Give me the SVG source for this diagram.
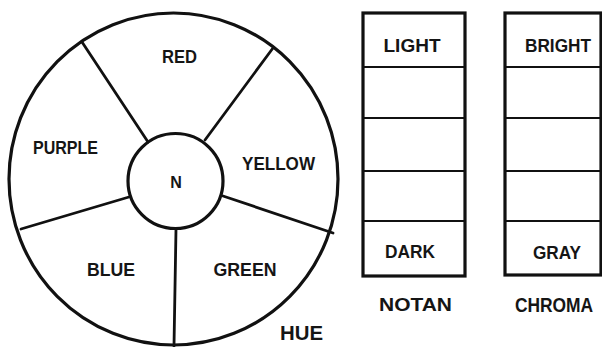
<svg xmlns="http://www.w3.org/2000/svg" width="602" height="347" viewBox="0 0 602 347">
<style>
.ln{fill:none;stroke:#111;stroke-linecap:round}
.outer{stroke-width:3.2}
.spoke{stroke-width:2.8}
.div{stroke-width:2.2}
.box{fill:#fff;stroke:#111;stroke-width:3.2}
.t{font-family:"Liberation Sans",Arial,sans-serif;font-weight:bold;font-size:17.5px;fill:#151515;text-anchor:middle}
</style>
<rect width="602" height="347" fill="#fff"/>
<g id="connectors">
<line class="ln spoke" x1="82" y1="42" x2="148" y2="142"/>
<line class="ln spoke" x1="273" y1="48" x2="205" y2="140"/>
<line class="ln spoke" x1="223" y1="196" x2="333" y2="233"/>
<line class="ln spoke" x1="176" y1="229" x2="174" y2="346"/>
<line class="ln spoke" x1="129" y1="197" x2="21" y2="229"/>
</g>
<g id="hue-wheel">
<ellipse class="ln outer" cx="173.5" cy="179" rx="164.5" ry="166"/>
</g>
<g id="node-N">
<circle class="ln outer" cx="175.5" cy="181" r="47.5"/>
<text class="t" x="176" y="187.5" style="font-size:16px">N</text>
</g>
<g id="node-red"><text class="t" x="179.5" y="63" textLength="35" lengthAdjust="spacingAndGlyphs">RED</text></g>
<g id="node-purple"><text class="t" x="65.5" y="154" textLength="65" lengthAdjust="spacingAndGlyphs">PURPLE</text></g>
<g id="node-yellow"><text class="t" x="278.5" y="170" textLength="73" lengthAdjust="spacingAndGlyphs">YELLOW</text></g>
<g id="node-blue"><text class="t" x="111" y="276" textLength="48" lengthAdjust="spacingAndGlyphs">BLUE</text></g>
<g id="node-green"><text class="t" x="245" y="276" textLength="63" lengthAdjust="spacingAndGlyphs">GREEN</text></g>
<g id="label-hue"><text class="t" x="301.5" y="340" style="font-size:20px" textLength="43" lengthAdjust="spacingAndGlyphs">HUE</text></g>
<g id="notan">
<rect class="box" x="363" y="13" width="102" height="263"/>
<line class="ln div" x1="363" y1="67" x2="465" y2="67"/>
<line class="ln div" x1="363" y1="118" x2="465" y2="118"/>
<line class="ln div" x1="363" y1="171" x2="465" y2="171"/>
<line class="ln div" x1="363" y1="221" x2="465" y2="221"/>
<text class="t" x="412" y="52" textLength="57" lengthAdjust="spacingAndGlyphs">LIGHT</text>
<text class="t" x="410" y="258" textLength="50" lengthAdjust="spacingAndGlyphs">DARK</text>
<text class="t" x="415.5" y="311" style="font-size:18px" textLength="73" lengthAdjust="spacingAndGlyphs">NOTAN</text>
</g>
<g id="chroma">
<rect class="box" x="505" y="13" width="96" height="262"/>
<line class="ln div" x1="505" y1="67" x2="601" y2="67"/>
<line class="ln div" x1="505" y1="118" x2="601" y2="118"/>
<line class="ln div" x1="505" y1="171" x2="601" y2="171"/>
<line class="ln div" x1="505" y1="221" x2="601" y2="221"/>
<text class="t" x="558" y="52" textLength="66" lengthAdjust="spacingAndGlyphs">BRIGHT</text>
<text class="t" x="557" y="259" textLength="48" lengthAdjust="spacingAndGlyphs">GRAY</text>
<text class="t" transform="translate(554,312) scale(0.87,1)" x="0" y="0" style="font-size:20px">CHROMA</text>
</g>
</svg>
